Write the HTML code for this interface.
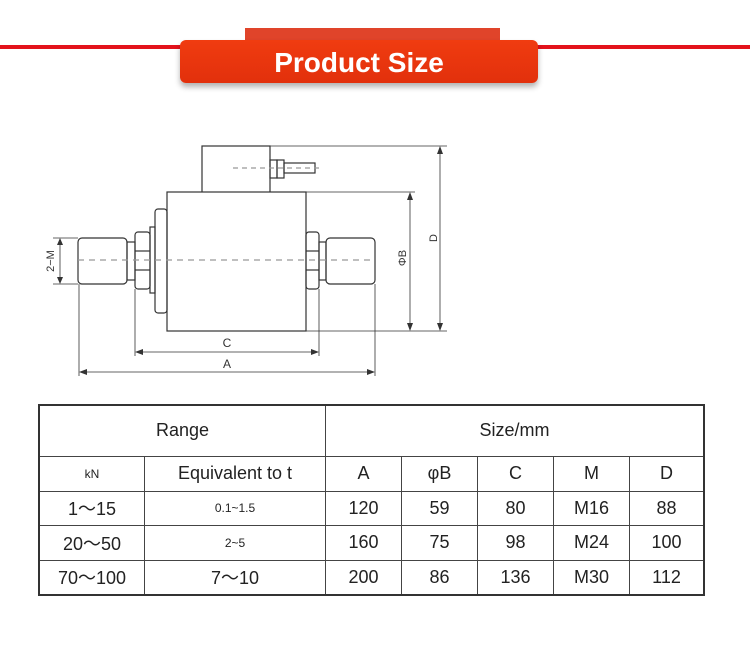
<!DOCTYPE html>
<html><head><style>
body{margin:0;width:750px;height:648px;background:#fff;position:relative;overflow:hidden;font-family:"Liberation Sans",sans-serif}
.line{position:absolute;left:0;top:45px;width:750px;height:4px;background:#e3121b}
.tab{position:absolute;left:245px;top:28px;width:255px;height:14px;background:#e0442a}
.btn{position:absolute;left:180px;top:40px;width:358px;height:43px;background:linear-gradient(#f03c10,#e2300c);border-radius:6px;box-shadow:0 4px 6px rgba(0,0,0,.3);color:#fff;font-weight:bold;font-size:28px;text-align:center;line-height:45px}
table{position:absolute;left:38px;top:404px;border-collapse:collapse;border:2px solid #333}
td{border:1.5px solid #444;text-align:center;font-size:18px;color:#222;padding:0}
</style></head><body>
<div class="line"></div><div class="tab"></div>
<div class="btn">Product Size</div>
<svg width="750" height="400" style="position:absolute;left:0;top:0" fill="none" stroke="#333" stroke-width="1.2">
<rect x="202" y="146" width="68" height="52" fill="#fff"/>
<rect x="167" y="192" width="139" height="139" fill="#fff"/>
<rect x="270" y="160" width="7" height="18"/><rect x="277" y="160" width="7" height="18"/>
<rect x="284" y="163" width="31" height="10"/>
<rect x="155" y="209" width="12" height="104" rx="3"/>
<rect x="150" y="227" width="5" height="66"/>
<rect x="135" y="232" width="15" height="57" rx="3"/>
<line x1="135" y1="251" x2="150" y2="251"/><line x1="135" y1="270" x2="150" y2="270"/>
<rect x="127" y="242" width="8" height="38"/>
<rect x="78" y="238" width="49" height="46" rx="4"/>
<rect x="306" y="232" width="13" height="57" rx="3"/>
<line x1="306" y1="251" x2="319" y2="251"/><line x1="306" y1="270" x2="319" y2="270"/>
<rect x="319" y="242" width="7" height="38"/>
<rect x="326" y="238" width="49" height="46" rx="4"/>
<line x1="78" y1="260" x2="375" y2="260" stroke-dasharray="6 5" stroke="#999"/>
<line x1="233" y1="168" x2="322" y2="168" stroke-dasharray="5 4" stroke="#999"/>
<g stroke-width="0.8">
<line x1="270" y1="146" x2="447" y2="146"/><line x1="306" y1="192" x2="415" y2="192"/><line x1="306" y1="331" x2="447" y2="331"/>
<line x1="440" y1="148" x2="440" y2="329"/><line x1="410" y1="194" x2="410" y2="329"/>
<line x1="53" y1="238" x2="78" y2="238"/><line x1="53" y1="284" x2="78" y2="284"/><line x1="60" y1="240" x2="60" y2="282"/>
<line x1="135" y1="289" x2="135" y2="356"/><line x1="319" y1="289" x2="319" y2="356"/>
<line x1="79" y1="284" x2="79" y2="376"/><line x1="375" y1="284" x2="375" y2="376"/>
<line x1="137" y1="352" x2="317" y2="352"/><line x1="81" y1="372" x2="373" y2="372"/>
</g>
<g fill="#333" stroke="none">
<path d="M440 146l-3 8h6z M440 331l-3-8h6z M410 192l-3 8h6z M410 331l-3-8h6z M60 238l-3 7h6z M60 284l-3-7h6z M135 352l8-3v6z M319 352l-8-3v6z M79 372l8-3v6z M375 372l-8-3v6z"/>
<text x="227" y="347" font-size="12" text-anchor="middle" font-family="Liberation Sans">C</text>
<text x="227" y="368" font-size="12" text-anchor="middle" font-family="Liberation Sans">A</text>
<text transform="translate(437,238) rotate(-90)" font-size="11" text-anchor="middle" font-family="Liberation Sans">D</text>
<text transform="translate(406,258) rotate(-90)" font-size="11" text-anchor="middle" font-family="Liberation Sans">ΦB</text>
<text transform="translate(54,261) rotate(-90)" font-size="11" text-anchor="middle" font-family="Liberation Sans">2−M</text>
</g>
</svg>
<table>
<tr style="height:51px"><td colspan="2">Range</td><td colspan="5">Size/mm</td></tr>
<tr style="height:35px"><td style="width:104px;font-size:12px">kN</td><td style="width:180px">Equivalent to t</td><td style="width:75px">A</td><td style="width:75px">φB</td><td style="width:75px">C</td><td style="width:75px">M</td><td style="width:73px">D</td></tr>
<tr style="height:34px"><td>1～15</td><td style="font-size:12px">0.1~1.5</td><td>120</td><td>59</td><td>80</td><td>M16</td><td>88</td></tr>
<tr style="height:35px"><td>20～50</td><td style="font-size:12px">2~5</td><td>160</td><td>75</td><td>98</td><td>M24</td><td>100</td></tr>
<tr style="height:35px"><td>70～100</td><td>7～10</td><td>200</td><td>86</td><td>136</td><td>M30</td><td>112</td></tr>
</table>
</body></html>
